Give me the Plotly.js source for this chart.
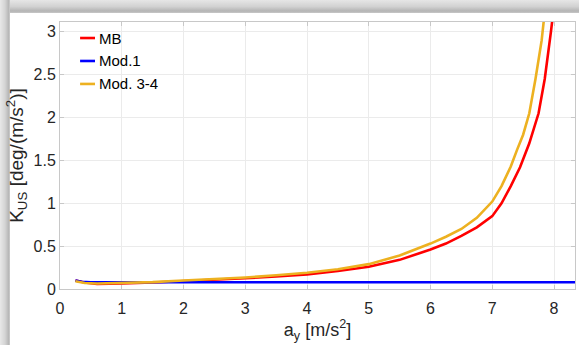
<!DOCTYPE html>
<html>
<head>
<meta charset="utf-8">
<script src="https://cdn.plot.ly/plotly-3.0.1.min.js"></script>
<style>
  html, body { margin: 0; padding: 0; width: 579px; height: 345px; overflow: hidden; background: #ffffff; }
  #frameTop { position: absolute; left: 0; top: 0; width: 579px; height: 13px;
    background: linear-gradient(to bottom, #e6e6e6 0%, #d2d2d2 50%, #b4b4b4 85%, #c8c8c8 100%); }
  #frameLeft { position: absolute; left: 0; top: 0; width: 10px; height: 345px;
    background: linear-gradient(to right, #e8e8e8 0%, #d4d4d4 50%, #b8b8b8 85%, #cccccc 100%); }
  #chart { position: absolute; left: 0; top: 0; width: 579px; height: 345px; }
</style>
</head>
<body>
<div id="frameTop"></div>
<div id="frameLeft"></div>
<div id="chart"></div>
<script>
// Understeer gradient K_US versus lateral acceleration a_y
const mbX = [0.25, 0.4, 0.6, 0.8, 1.0, 1.5, 2.0, 2.5, 3.0, 3.5, 4.0, 4.5, 5.0, 5.5, 6.0, 6.25, 6.5, 6.75, 7.0, 7.15, 7.3, 7.45, 7.6, 7.75, 7.85, 7.95, 8.0];
const mbY = [0.10, 0.075, 0.06, 0.06, 0.065, 0.075, 0.09, 0.105, 0.125, 0.145, 0.17, 0.21, 0.26, 0.34, 0.46, 0.53, 0.62, 0.72, 0.85, 1.0, 1.2, 1.42, 1.7, 2.05, 2.45, 3.0, 3.3];

const mod1X = [0.25, 0.35, 0.5, 1.0, 2.0, 3.0, 4.0, 5.0, 6.0, 7.0, 8.0, 8.34];
const mod1Y = [0.10, 0.085, 0.078, 0.078, 0.078, 0.078, 0.078, 0.078, 0.078, 0.078, 0.078, 0.078];

const mod34X = [0.25, 0.4, 0.6, 0.8, 1.0, 1.5, 2.0, 2.5, 3.0, 3.5, 4.0, 4.5, 5.0, 5.5, 6.0, 6.25, 6.5, 6.75, 7.0, 7.15, 7.3, 7.4, 7.5, 7.6, 7.7, 7.8, 7.86];
const mod34Y = [0.09, 0.07, 0.065, 0.068, 0.07, 0.08, 0.10, 0.115, 0.135, 0.16, 0.19, 0.23, 0.29, 0.39, 0.53, 0.61, 0.70, 0.83, 1.02, 1.2, 1.43, 1.62, 1.8, 2.05, 2.45, 2.9, 3.3];

const seriesNames = ['MB', 'Mod.1', 'Mod. 3-4'];
const seriesColors = ['#ff0000', '#0000ff', '#edb120'];

const xTicks = [0, 1, 2, 3, 4, 5, 6, 7, 8];
const yTicks = [0, 0.5, 1, 1.5, 2, 2.5, 3];
const yTickText = ['0', '0.5', '1', '1.5', '2', '2.5', '3'];

const FONT = 'Liberation Sans, Arial, sans-serif';

const traces = [
  { x: mbX, y: mbY, name: seriesNames[0], mode: 'lines', line: { color: seriesColors[0], width: 2.6 } },
  { x: mod1X, y: mod1Y, name: seriesNames[1], mode: 'lines', line: { color: seriesColors[1], width: 2.6 } },
  { x: mod34X, y: mod34Y, name: seriesNames[2], mode: 'lines', line: { color: seriesColors[2], width: 2.6 } }
];

// compact MATLAB-style legend: short line sample followed by the label
const legendShapes = [];
const legendNotes = [];
seriesNames.forEach((name, i) => {
  const yc = 0.94 - i * 0.086;
  legendShapes.push({ type: 'line', xref: 'paper', yref: 'paper',
    x0: 0.039, x1: 0.068, y0: yc, y1: yc,
    line: { color: seriesColors[i], width: 2.6 } });
  legendNotes.push({ xref: 'paper', yref: 'paper', x: 0.071, y: yc,
    xanchor: 'left', yanchor: 'middle', showarrow: false, text: name,
    font: { family: FONT, size: 15, color: '#000000' } });
});

const axisFont = { family: FONT, size: 16, color: '#262626' };

const layout = {
  width: 579, height: 345,
  margin: { l: 60, r: 4, t: 22, b: 56 },
  paper_bgcolor: 'rgba(0,0,0,0)',
  plot_bgcolor: '#ffffff',
  showlegend: false,
  shapes: legendShapes,
  annotations: legendNotes,
  xaxis: {
    range: [0, 8.34], tickvals: xTicks, ticktext: xTicks.map(String),
    showgrid: true, gridcolor: '#ebebeb', gridwidth: 1,
    zeroline: false, showline: true, linecolor: '#c8c8c8', mirror: 'ticks',
    ticks: 'inside', ticklen: 4, tickcolor: '#c8c8c8',
    tickfont: axisFont, ticklabelstandoff: 5,
    title: { text: 'a<sub>y</sub> [m/s<sup>2</sup>]', font: { family: FONT, size: 18, color: '#262626' }, standoff: 2 }
  },
  yaxis: {
    range: [0, 3.115], tickvals: yTicks, ticktext: yTickText,
    showgrid: true, gridcolor: '#ebebeb', gridwidth: 1,
    zeroline: false, showline: true, linecolor: '#c8c8c8', mirror: 'ticks',
    ticks: 'inside', ticklen: 4, tickcolor: '#c8c8c8',
    tickfont: axisFont,
    title: { text: 'K<sub>US</sub> [deg/(m/s<sup>2</sup>)]', font: { family: FONT, size: 19, color: '#262626' }, standoff: 4 }
  }
};

Plotly.newPlot('chart', traces, layout, { displayModeBar: false, staticPlot: true });
</script>
</body>
</html>
